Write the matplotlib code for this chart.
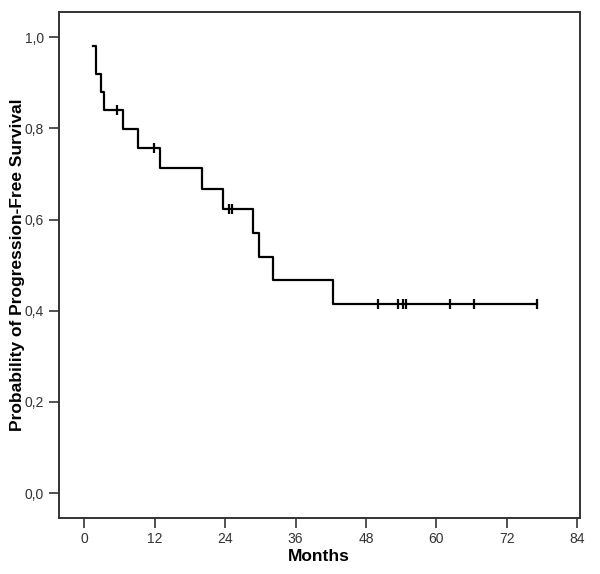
import numpy as np
import matplotlib.pyplot as plt
from matplotlib.ticker import FuncFormatter

# Kaplan-Meier step curve
step_times = [1.4, 2.0, 2.9, 3.4, 6.6, 9.1, 12.9, 20.0, 23.7, 28.8, 29.8, 32.1, 42.3]
step_surv = [0.98, 0.92, 0.88, 0.84, 0.798, 0.756, 0.712, 0.667, 0.622, 0.570, 0.518, 0.467, 0.415]
end_time = 77.2

# censored observations
cens_times = [5.6, 11.8, 24.7, 25.2, 50.0, 53.5, 54.3, 54.9, 62.4, 66.4, 77.2]

x_ticks = [0, 12, 24, 36, 48, 60, 72, 84]
y_ticks = [0.0, 0.2, 0.4, 0.6, 0.8, 1.0]


def surv_at(t):
    idx = np.searchsorted(step_times, t, side='right') - 1
    return step_surv[max(idx, 0)]


def main():
    plt.rcParams['font.family'] = ['Liberation Sans', 'DejaVu Sans']
    fig = plt.figure(figsize=(6.0, 5.74), dpi=100)
    ax = fig.add_axes([0.0975, 0.098, 0.8685, 0.881])

    xs = step_times + [end_time]
    ys = step_surv + [step_surv[-1]]
    ax.step(xs, ys, where='post', color='black', lw=1.6)

    cy = [surv_at(t) for t in cens_times]
    ax.plot(cens_times, cy, ls='none', marker='|', ms=7, mew=1.6, color='black')

    ax.set_xlim(-4.4, 84.4)
    ax.set_ylim(-0.054, 1.055)
    ax.set_xticks(x_ticks)
    ax.set_yticks(y_ticks)
    ax.yaxis.set_major_formatter(FuncFormatter(lambda v, p: f"{v:.1f}".replace('.', ',')))
    ax.tick_params(direction='out', length=7, width=1.2, labelsize=10, colors='#333333')

    for s in ax.spines.values():
        s.set_linewidth(1.4)
        s.set_color('#333333')

    ax.set_xlabel('Months', fontsize=12.5, fontweight='bold', labelpad=2)
    ax.set_ylabel('Probability of Progression-Free Survival', fontsize=12.5,
                  fontweight='bold')
    ax.yaxis.set_label_coords(-0.064, 0.5)

    fig.savefig('out.png', dpi=100)


if __name__ == "__main__":
    main()
